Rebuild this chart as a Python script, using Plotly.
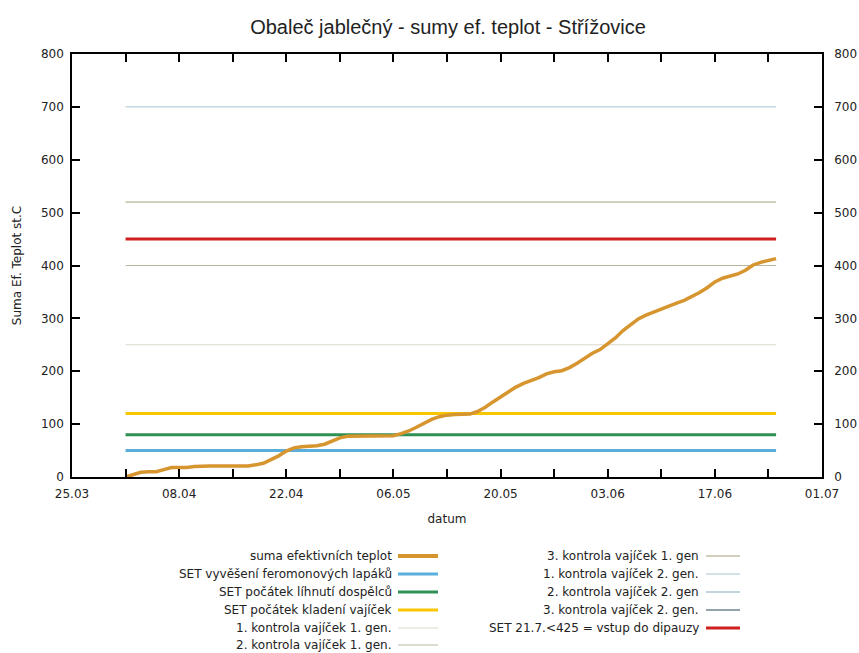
import pandas as pd
import plotly.graph_objects as go

# ---------------- data ----------------
title_text = "Obaleč jablečný - sumy ef. teplot - Střížovice"
x_title = "datum"
y_title = "Suma Ef. Teplot st.C"

curve_start = "2013-04-01"
curve_values = [
    0, 4, 9, 10, 10, 14, 18, 18, 18, 20,
    21, 21, 21, 21, 21, 21, 21, 23, 26, 33,
    40, 49, 55, 57, 58, 59, 62, 68, 74, 77,
    77, 78, 78, 78, 78, 78, 82, 87, 94, 101,
    109, 114, 117, 118, 118, 119, 124, 132, 142, 151,
    161, 170, 177, 182, 188, 195, 199, 201, 207, 215,
    225, 234, 241, 251, 263, 277, 289, 299, 306, 312,
    318, 324, 329, 334, 341, 349, 358, 369, 376, 380,
    384, 391, 401, 406, 410, 413,
]
curve_name = "suma efektivních teplot"

line_start = "2013-04-01"
line_end = "2013-06-25"
threshold_names = [
    "SET vyvěšení feromonových lapáků",
    "SET počátek líhnutí dospělců",
    "SET počátek kladení vajíček",
    "1. kontrola vajíček 1. gen.",
    "2. kontrola vajíček 1. gen.",
    "3. kontrola vajíček 1. gen",
    "1. kontrola vajíček 2. gen.",
    "2. kontrola vajíček 2. gen",
    "3. kontrola vajíček 2. gen.",
    "SET 21.7.<425 = vstup do dipauzy",
]
threshold_values = [50, 80, 120, 250, 400, 520, 700, 880, 1050, 450]
threshold_colors = ["#5aaedc", "#2e9154", "#f7c600", "#d9d7c9", "#b9b79f",
                    "#a3a07a", "#a9c3d0", "#86a9bd", "#2b4a5c", "#d01f1f"]
threshold_widths = [3, 3, 3, 1, 1, 1, 1, 1, 1, 3]
curve_color = "#d6952f"

x_range = ["2013-03-25", "2013-07-01"]
x_tick_dates = ["2013-03-25", "2013-04-08", "2013-04-22", "2013-05-06",
                "2013-05-20", "2013-06-03", "2013-06-17", "2013-07-01"]
x_tick_labels = ["25.03", "08.04", "22.04", "06.05", "20.05", "03.06", "17.06", "01.07"]
y_ticks = [0, 100, 200, 300, 400, 500, 600, 700, 800]

# ---------------- figure ----------------
dates = pd.date_range(curve_start, periods=len(curve_values), freq="D")

fig = go.Figure()
for name, val, col, w in zip(threshold_names, threshold_values, threshold_colors, threshold_widths):
    fig.add_trace(go.Scatter(x=[line_start, line_end], y=[val, val], mode="lines",
                             line=dict(color=col, width=w), name=name, showlegend=False))
fig.add_trace(go.Scatter(x=dates, y=curve_values, mode="lines",
                         line=dict(color=curve_color, width=3.5), name=curve_name, showlegend=False))
# right axis companion
fig.add_trace(go.Scatter(x=[x_range[0]], y=[0], yaxis="y2", mode="markers",
                         marker=dict(opacity=0), showlegend=False, hoverinfo="skip"))

font_main = "DejaVu Sans"
axis_common = dict(showline=True, linecolor="#000", linewidth=1.5, ticks="inside",
                   tickcolor="#000", tickwidth=1.5, showgrid=False, zeroline=False,
                   automargin=False,
                   tickfont=dict(family=font_main, size=12, color="#222"))

W, H = 859, 653
pl, pr, pt, pb = 72, 37, 54, 176

fig.update_layout(
    width=W, height=H,
    margin=dict(l=pl, r=pr, t=pt, b=pb, autoexpand=False),
    paper_bgcolor="white", plot_bgcolor="white",
    title=dict(text=title_text, x=448 / W, xanchor="center", y=1 - 27 / H, yanchor="middle",
               font=dict(family="Liberation Sans", size=20, color="#222")),
    xaxis=dict(type="date", range=x_range, tickvals=x_tick_dates, ticktext=x_tick_labels,
               ticklen=8, mirror="allticks", ticklabelstandoff=5,
               minor=dict(dtick=7 * 86400000, tick0="2013-03-25", ticks="inside",
                          ticklen=5, tickcolor="#000", tickwidth=1.5),
               title=dict(text=x_title, font=dict(family=font_main, size=12, color="#222"),
                          standoff=14),
               **axis_common),
    yaxis=dict(range=[0, 800], tickvals=y_ticks, ticklen=8, mirror=True,
               ticklabelstandoff=4,
               title=dict(text=y_title, font=dict(family=font_main, size=12, color="#222"),
                          standoff=17),
               **axis_common),
    yaxis2=dict(range=[0, 800], tickvals=y_ticks, ticklen=8, overlaying="y", side="right",
                ticklabelstandoff=8, **axis_common),
)

# custom legend (text right-aligned, sample line to the right), positions in pixels
row_y = [556, 574, 592, 610, 628, 645]
col1_text_x, col1_line = 394, (398, 438)
col2_text_x, col2_line = 701, (706, 740)
dom_w, dom_h = W - pl - pr, H - pt - pb


def px_x(v):
    return (v - pl) / dom_w


def px_y(v):
    return 1 - (v - pt) / dom_h


legend_entries = [(curve_name, curve_color, 4)] + list(zip(threshold_names, threshold_colors, threshold_widths))
for i, (name, col, w) in enumerate(legend_entries):
    if i < 6:
        tx, (l0, l1), yy = col1_text_x, col1_line, row_y[i]
    else:
        tx, (l0, l1), yy = col2_text_x, col2_line, row_y[i - 6]
    fig.add_annotation(x=px_x(tx), y=px_y(yy), xref="paper", yref="paper",
                       xanchor="right", yanchor="middle", showarrow=False, text=name,
                       font=dict(family=font_main, size=12, color="#222"))
    fig.add_shape(type="line", xref="paper", yref="paper",
                  x0=px_x(l0), x1=px_x(l1), y0=px_y(yy), y1=px_y(yy),
                  line=dict(color=col, width=w if w > 1 else 1.2))

fig.write_html("out.html")
